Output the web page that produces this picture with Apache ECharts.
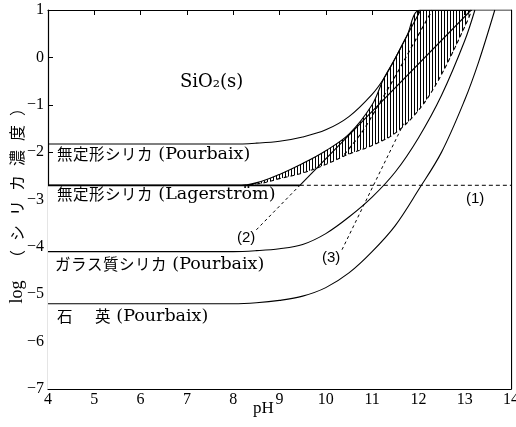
<!DOCTYPE html>
<html><head><meta charset="utf-8">
<script src="https://cdn.jsdelivr.net/npm/echarts@6/dist/echarts.min.js"></script>
<style>html,body{margin:0;padding:0;background:#fff}#c{width:516px;height:427px}</style>
</head><body><div id="c"></div>
<script>
// ---- data (pH, log of silica concentration) ----
const xTicks = [4,5,6,7,8,9,10,11,12,13,14];
const yTicks = [-7,-6,-5,-4,-3,-2,-1,0,1];

const amorphPourbaixPH  = [4, 8, 8.5, 9, 9.5, 10, 10.5, 11, 11.25, 11.5, 11.75, 12.05];
const amorphPourbaixLog = [-1.83, -1.83, -1.81, -1.77, -1.68, -1.53, -1.25, -0.78, -0.45, -0.02, 0.45, 1.0];

const lagerFlatPH  = [4, 9.44];
const lagerFlatLog = [-2.7, -2.7];

const hatchUpperPH  = [4, 8.2, 8.6, 9, 9.5, 10, 10.5, 11, 11.25, 11.5, 11.75, 12.05, 14];
const hatchUpperLog = [-2.7, -2.7, -2.62, -2.47, -2.24, -1.97, -1.62, -1.0, -0.45, -0.02, 0.45, 1.0, 1.0];

const hatchLowerPH  = [4, 8.2, 8.6, 9, 9.5, 10, 10.5, 11, 11.5, 12, 12.45, 13.05, 13.15, 14];
const hatchLowerLog = [-2.7, -2.7, -2.66, -2.56, -2.44, -2.26, -2.04, -1.86, -1.6, -1.12, -0.45, 0.75, 1.0, 1.0];

const midDashPH  = [10.4, 10.8, 11.17, 11.5, 11.9, 12.3];
const midDashLog = [-2.05, -1.55, -0.95, -0.4, 0.3, 1.0];

const line1PH  = [9.44, 14];
const line1Log = [-2.7, -2.7];

const line2LeaderPH  = [8.5, 9.44];
const line2LeaderLog = [-3.64, -2.7];
const line2PH  = [9.44, 13.14];
const line2Log = [-2.7, 1.0];

const line3PH  = [10.35, 11.68];
const line3Log = [-4.06, -1.4];

const glassPH  = [4, 8, 8.5, 9, 9.5, 10, 10.5, 11, 11.5, 12, 12.5, 13, 13.22];
const glassLog = [-4.1, -4.1, -4.08, -4.04, -3.95, -3.72, -3.37, -2.95, -2.42, -1.7, -0.8, 0.35, 1.0];

const quartzPH  = [4, 8, 8.5, 9, 9.5, 10, 10.5, 11, 11.5, 12, 12.5, 13, 13.3, 13.65];
const quartzLog = [-5.2, -5.2, -5.18, -5.13, -5.04, -4.86, -4.55, -4.1, -3.55, -2.8, -2.0, -0.9, -0.1, 1.0];

const yAxisTitle = ['log', '（シリカ濃度）'];
const xAxisTitle = 'pH';
// --------------------------------------------------

const zip = (a, b) => a.map((v, i) => [v, b[i]]);
const J = 'Noto Sans CJK JP', S = 'DejaVu Serif', R = 'Liberation Serif';

const pat = document.createElement('canvas');
pat.width = 3; pat.height = 2;
const pc = pat.getContext('2d');
pc.fillStyle = '#000'; pc.fillRect(0, 0, 1, 2);

function lineSeries(data, opts) {
  return Object.assign({
    type: 'line', data: data, showSymbol: false, symbol: 'none', smooth: 0.35,
    z: 5, silent: true,
    lineStyle: { color: '#000', width: 1.1, type: 'solid' }
  }, opts || {});
}
const dash = [4, 3];

const axisCommon = {
  type: 'value',
  axisLine: { show: true, onZero: false, lineStyle: { color: '#000', width: 1.2 } },
  axisTick: { inside: true, length: 5, lineStyle: { color: '#000', width: 1 } },
  splitLine: { show: false }
};

const chart = echarts.init(document.getElementById('c'), null, { renderer: 'canvas' });

function jpTokens(s, key) { return s.split('').map(ch => '{' + key + '|' + ch + '}').join(''); }

const option = {
  animation: false,
  backgroundColor: '#fff',
  grid: { left: 48, right: 5, top: 10, bottom: 38, containLabel: false, outerBoundsMode: 'none' },
  xAxis: [
    Object.assign({}, axisCommon, { min: xTicks[0], max: xTicks[xTicks.length - 1], interval: 1, position: 'bottom',
      axisLabel: { color: '#000', fontFamily: R, fontSize: 16, margin: 3 } }),
    Object.assign({}, axisCommon, { min: xTicks[0], max: xTicks[xTicks.length - 1], interval: 1, position: 'top',
      axisLabel: { show: false } })
  ],
  yAxis: [
    Object.assign({}, axisCommon, { min: yTicks[0], max: yTicks[yTicks.length - 1], interval: 1, position: 'left',
      axisLabel: { color: '#000', fontFamily: R, fontSize: 16, margin: 4,
        formatter: v => String(v).replace('-', '\u2212') },
      name: '{l|' + yAxisTitle[0] + '}{g|}' + jpTokens(yAxisTitle[1], 'c'),
      nameLocation: 'middle', nameRotate: 90, nameGap: 22, nameMoveOverlap: false,
      nameTextStyle: { color: '#000', rich: {
        l: { fontFamily: R, fontSize: 18, color: '#000' },
        g: { width: 10 },
        c: { fontFamily: J, fontSize: 16, width: 25, align: 'center', color: '#000' }
      } } }),
    Object.assign({}, axisCommon, { min: yTicks[0], max: yTicks[yTicks.length - 1], interval: 1, position: 'right',
      axisLabel: { show: false } })
  ],
  series: [
    { type: 'line', data: zip(hatchUpperPH, hatchUpperLog), showSymbol: false, smooth: 0.35, z: 1, silent: true,
      lineStyle: { width: 0 }, areaStyle: { origin: 'start', opacity: 1, color: { image: pat, repeat: 'repeat' } } },
    { type: 'line', data: zip(hatchLowerPH, hatchLowerLog), showSymbol: false, smooth: 0.35, z: 2, silent: true,
      lineStyle: { width: 0 }, areaStyle: { origin: 'start', opacity: 1, color: '#fff' } },
    lineSeries(zip(hatchUpperPH, hatchUpperLog)),
    lineSeries(zip(hatchLowerPH.slice(1, 13), hatchLowerLog.slice(1, 13)), { lineStyle: { color: '#000', width: 1.1, type: dash } }),
    lineSeries(zip(amorphPourbaixPH, amorphPourbaixLog)),
    lineSeries(zip(lagerFlatPH, lagerFlatLog), { lineStyle: { color: '#000', width: 1.8 } }),
    lineSeries(zip(midDashPH, midDashLog), { lineStyle: { color: '#000', width: 1.2, type: dash } }),
    lineSeries(zip(line1PH, line1Log), { smooth: false, lineStyle: { color: '#000', width: 1, type: dash } }),
    lineSeries(zip(line2LeaderPH, line2LeaderLog), { smooth: false, lineStyle: { color: '#000', width: 1, type: [3, 3] } }),
    lineSeries(zip(line2PH, line2Log), { smooth: false, lineStyle: { color: '#000', width: 1.1 } }),
    lineSeries(zip(line3PH, line3Log), { smooth: false, lineStyle: { color: '#000', width: 1, type: [3, 3] } }),
    lineSeries(zip(glassPH, glassLog)),
    lineSeries(zip(quartzPH, quartzLog))
  ]
};
chart.setOption(option);

const richLab = {
  j: { fontFamily: J, fontSize: 15.5, width: 16, align: 'center', color: '#000' },
  s: { fontFamily: S, fontSize: 17.5, color: '#000' },
  w: { width: 22 }
};
function lab(x, yc, text) {
  return { type: 'text', left: x, top: yc - 10, z: 20, silent: true,
    style: { text: text, rich: richLab, fill: '#000' } };
}
chart.setOption({
  graphic: [
    { type: 'text', left: 180, top: 73, z: 20, style: { text: 'SiO₂(s)', font: '18px "DejaVu Serif"', fill: '#000' } },
    lab(57, 155, jpTokens('無定形シリカ', 'j') + '{s| (Pourbaix)}'),
    lab(57, 195, jpTokens('無定形シリカ', 'j') + '{s| (Lagerström)}'),
    lab(55, 265, jpTokens('ガラス質シリカ', 'j') + '{s| (Pourbaix)}'),
    lab(57, 317, '{j|石}{w|}{j|英}{s| (Pourbaix)}'),
    { type: 'text', left: 466, top: 191, z: 20, style: { text: '(1)', font: '15px "Liberation Sans"', fill: '#000' } },
    { type: 'text', left: 237, top: 230, z: 20, style: { text: '(2)', font: '15px "Liberation Sans"', fill: '#000' } },
    { type: 'text', left: 322, top: 250, z: 20, style: { text: '(3)', font: '15px "Liberation Sans"', fill: '#000' } },
    { type: 'text', left: 253, top: 400, z: 20, style: { text: xAxisTitle, font: '17px "Liberation Serif"', fill: '#000' } }
  ]
});
</script></body></html>
